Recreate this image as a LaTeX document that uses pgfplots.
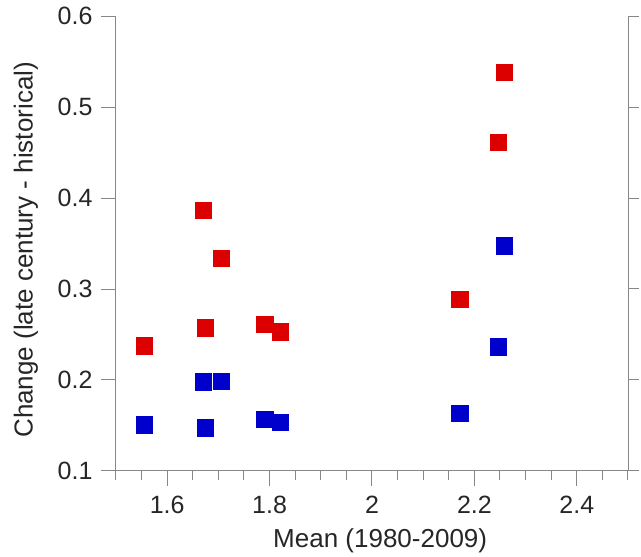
\documentclass[border=0pt]{standalone}
\usepackage{pgfplots}
\pgfplotsset{compat=1.18}
\usepackage{fontspec}
\setmainfont{Liberation Sans}
\definecolor{myred}{RGB}{220,0,0}
\definecolor{myblue}{RGB}{0,0,205}
\definecolor{axgray}{RGB}{135,135,135}
\begin{document}
\begin{tikzpicture}
\pgfplotsset{common/.style={
 scale only axis, width=512pt, height=455pt,
 xmin=1.5,xmax=2.5,ymin=0.1,ymax=0.6,
 /pgf/number format/assume math mode=true,
 tick align=outside,
 major tick length=15pt, minor tick length=9pt,
 every tick/.style={axgray, line width=1pt},
 axis line style={axgray, line width=1pt},
 ticklabel style={font=\fontsize{25}{30}\selectfont, text=black!85},
 label style={font=\fontsize{26}{31}\selectfont, text=black!85},
}}
\begin{axis}[common, axis x line*=bottom, axis y line*=left,
 xtick={1.6,1.8,2,2.2,2.4}, minor xtick={1.5,1.55,...,2.5},
 ytick={0.1,0.2,0.3,0.4,0.5,0.6},
 yticklabel style={xshift=-5pt, /pgf/number format/.cd, fixed, fixed zerofill, precision=1},
 xticklabel style={yshift=-7pt},
 xlabel={Mean (1980-2009)}, ylabel={Change (late century - historical)},
 xlabel style={at={(axis description cs:0.516,-0.169)},anchor=base},
 ylabel style={at={(axis description cs:-0.176,0.486)},anchor=center},
 clip=false,
]
\addplot[only marks, mark=square*, mark size=8.1pt, mark options={draw=myred, fill=myred, line width=0.4pt}] coordinates {
(1.5546,0.2377) (1.6710,0.3868) (1.6735,0.2575) (1.7060,0.3337) (1.7905,0.2612)
(1.8203,0.2531) (2.1712,0.2890) (2.2466,0.4612) (2.2583,0.5385)};
\addplot[only marks, mark=square*, mark size=8.1pt, mark options={draw=myblue, fill=myblue, line width=0.4pt}] coordinates {
(1.5546,0.1509) (1.6702,0.1981) (1.6735,0.1476) (1.7060,0.1989) (1.7905,0.1571)
(1.8203,0.1538) (2.1712,0.1634) (2.2466,0.2366) (2.2583,0.3476)};
\end{axis}
\begin{axis}[common, axis y line*=right, axis x line=none,
 ytick={0.1,0.2,0.3,0.4,0.5,0.6}, yticklabels={}, major tick length=11pt]
\end{axis}
\pgfresetboundingbox
\path[use as bounding box] (-116pt,-86pt) rectangle (525pt,471pt);
\end{tikzpicture}
\end{document}
